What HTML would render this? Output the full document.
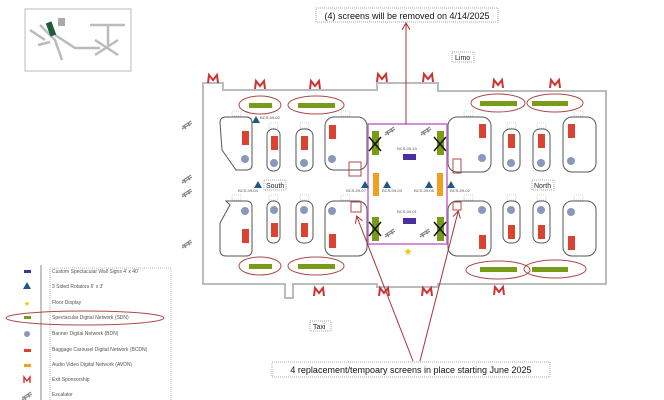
<!DOCTYPE html>
<html><head><style>
body{margin:0;background:#fff;}
svg{display:block;font-family:"Liberation Sans",sans-serif;}
</style></head><body>
<svg width="664" height="400" viewBox="0 0 664 400" xmlns="http://www.w3.org/2000/svg">
<defs>
<marker id="ah" markerWidth="8" markerHeight="8" refX="6" refY="4" orient="auto"><path d="M0,0 L7,4 L0,8" fill="none" stroke="#a33" stroke-width="1"/></marker>
<g id="M"><path d="M-5,4 L-4,-4 L0,1 L4,-4 L5,4" fill="none" stroke="#c33" stroke-width="2"/></g>
<g id="Ms"><path d="M-3,3 L-3,-3 L0,1 L3,-3 L3,3" fill="none" stroke="#c33" stroke-width="1.4"/></g>
<g id="esc"><path d="M-5,3 L4,-3 M-5,5 L5,-1 M-3,2 L-1,5 M1,-1 L3,2" stroke="#888" stroke-width="1.2" fill="none"/></g>
<g id="bd"><circle r="4" fill="#8899bb"/></g>
<g id="rr"><rect x="-3" y="-7" width="7" height="14" fill="#d9432f"/></g>
<g id="tri"><path d="M-4,3 L0,-4 L4,3Z" fill="#1f5a85"/></g>
</defs>

<!-- minimap -->
<rect x="25" y="9" width="106" height="62" fill="#fff" stroke="#bbb"/>
<path d="M40,25 L55,40 L62,60 M55,35 L75,48 L100,48 M90,25 L125,25 M108,25 L108,45 M95,40 L118,55 M95,55 L118,40 M30,30 L45,40 M38,45 L50,42" stroke="#bbb" stroke-width="2.5" fill="none"/>
<rect x="48" y="22" width="6" height="14" fill="#1d5e3a" transform="rotate(-20 51 29)"/>
<rect x="58" y="18" width="7" height="8" fill="#aaa"/>

<!-- floor outline -->
<path d="M203,83 L223,83 L223,90 L377,90 L377,83 L438,83 L438,91 L606,91 L606,284 L438,284 L438,287 L377,287 L377,284 L293,284 L293,298 L285,298 L285,284 L203,284 Z" fill="#fff" stroke="#bbb" stroke-width="2"/>

<!-- pods left top -->
<path d="M226,117 L246,117 Q252,117 252,123 L252,165 Q252,170 246,170 L236,170 L222,150 L220,123 Q220,117 226,117Z" fill="none" stroke="#555" stroke-width="1"/>
<rect x="267" y="129" width="13" height="42" rx="6" fill="none" stroke="#555"/>
<rect x="296" y="129" width="17" height="42" rx="7" fill="none" stroke="#555"/>
<rect x="325" y="117" width="42" height="53" rx="9" fill="none" stroke="#555"/>
<path d="M226,201 L246,201 Q252,201 252,207 L252,250 Q252,256 246,256 L226,256 Q220,256 220,250 L220,223 L230,205Z" fill="none" stroke="#555"/>
<rect x="267" y="201" width="13" height="42" rx="6" fill="none" stroke="#555"/>
<rect x="296" y="201" width="17" height="42" rx="7" fill="none" stroke="#555"/>
<rect x="325" y="201" width="42" height="55" rx="9" fill="none" stroke="#555"/>
<rect x="448" y="117" width="43" height="55" rx="9" fill="none" stroke="#555"/>
<rect x="503" y="129" width="17" height="42" rx="7" fill="none" stroke="#555"/>
<rect x="533" y="129" width="17" height="42" rx="7" fill="none" stroke="#555"/>
<rect x="563" y="117" width="33" height="55" rx="9" fill="none" stroke="#555"/>
<rect x="448" y="201" width="43" height="55" rx="9" fill="none" stroke="#555"/>
<rect x="503" y="201" width="17" height="42" rx="7" fill="none" stroke="#555"/>
<rect x="533" y="201" width="17" height="42" rx="7" fill="none" stroke="#555"/>
<rect x="563" y="201" width="33" height="55" rx="9" fill="none" stroke="#555"/>

<!-- pod number tags -->
<g font-size="3.5" fill="#555" text-anchor="middle">
<g fill="#fff" stroke="#aaa" stroke-width="0.5" stroke-dasharray="1,1">
<rect x="232" y="111" width="9" height="5"/><rect x="269" y="123" width="9" height="5"/><rect x="300" y="123" width="9" height="5"/><rect x="341" y="111" width="9" height="5"/>
<rect x="232" y="195" width="9" height="5"/><rect x="269" y="195" width="9" height="5"/><rect x="300" y="195" width="9" height="5"/><rect x="341" y="195" width="9" height="5"/>
<rect x="464" y="111" width="9" height="5"/><rect x="507" y="123" width="9" height="5"/><rect x="537" y="123" width="9" height="5"/><rect x="574" y="111" width="9" height="5"/>
<rect x="464" y="195" width="9" height="5"/><rect x="507" y="195" width="9" height="5"/><rect x="537" y="195" width="9" height="5"/><rect x="574" y="195" width="9" height="5"/>
</g>
</g>

<!-- red rects & banners -->
<use href="#rr" x="245" y="138"/><use href="#rr" x="274" y="143"/><use href="#rr" x="304" y="143"/><use href="#rr" x="332" y="132"/>
<use href="#bd" x="245" y="159"/><use href="#bd" x="274" y="163"/><use href="#bd" x="304" y="163"/><use href="#bd" x="332" y="159"/>
<use href="#bd" x="245" y="211"/><use href="#bd" x="274" y="210"/><use href="#bd" x="304" y="210"/><use href="#bd" x="332" y="211"/>
<use href="#rr" x="245" y="236"/><use href="#rr" x="274" y="230"/><use href="#rr" x="304" y="230"/><use href="#rr" x="332" y="241"/>
<use href="#rr" x="482" y="131"/><use href="#rr" x="511" y="141"/><use href="#rr" x="541" y="141"/><use href="#rr" x="571" y="131"/>
<use href="#bd" x="482" y="158"/><use href="#bd" x="511" y="163"/><use href="#bd" x="541" y="163"/><use href="#bd" x="571" y="161"/>
<use href="#bd" x="482" y="210"/><use href="#bd" x="511" y="210"/><use href="#bd" x="541" y="210"/><use href="#bd" x="571" y="212"/>
<use href="#rr" x="482" y="242"/><use href="#rr" x="511" y="232"/><use href="#rr" x="541" y="232"/><use href="#rr" x="571" y="243"/>

<!-- SDN bars + ellipses -->
<g fill="#7a9a1a">
<rect x="249" y="103" width="23" height="5"/><rect x="298" y="103" width="37" height="5"/>
<rect x="480" y="101" width="37" height="5"/><rect x="532" y="101" width="36" height="5"/>
<rect x="249" y="264" width="23" height="5"/><rect x="298" y="264" width="37" height="5"/>
<rect x="480" y="267" width="37" height="5"/><rect x="532" y="267" width="36" height="5"/>
</g>
<g fill="none" stroke="#b04848" stroke-width="1">
<ellipse cx="260" cy="105" rx="21" ry="9"/><ellipse cx="316" cy="105" rx="28" ry="9"/>
<ellipse cx="498" cy="103" rx="27" ry="9"/><ellipse cx="555" cy="103" rx="28" ry="9"/>
<ellipse cx="260" cy="266" rx="21" ry="9"/><ellipse cx="316" cy="266" rx="28" ry="9"/>
<ellipse cx="498" cy="270" rx="32" ry="9"/><ellipse cx="555" cy="269" rx="31" ry="9"/>
</g>

<!-- center magenta box -->
<rect x="368" y="124" width="79" height="120" fill="none" stroke="#c567d0" stroke-width="1.5"/>
<g fill="#7a9a1a"><rect x="372" y="131" width="7" height="24"/><rect x="437" y="131" width="7" height="24"/><rect x="372" y="217" width="7" height="24"/><rect x="437" y="217" width="7" height="24"/></g>
<g stroke="#111" stroke-width="1.5"><path d="M369,137 L381,151 M381,137 L369,151 M434,137 L446,151 M446,137 L434,151 M369,222 L381,236 M381,222 L369,236 M434,222 L446,236 M446,222 L434,236"/></g>
<rect x="373" y="173" width="6" height="23" fill="#f0a020"/><rect x="437" y="173" width="6" height="23" fill="#f0a020"/>
<rect x="403" y="154" width="13" height="6" fill="#4a2fa0"/><rect x="403" y="218" width="13" height="6" fill="#4a2fa0"/>
<g fill="none" stroke="#b04848"><rect x="349" y="162" width="12" height="14"/><rect x="351" y="202" width="10" height="10"/><rect x="453" y="159" width="8" height="14"/><rect x="453" y="202" width="8" height="8"/></g>
<use href="#esc" x="390" y="130"/><use href="#esc" x="426" y="130"/><use href="#esc" x="390" y="232"/><use href="#esc" x="425" y="232"/>
<use href="#tri" x="256" y="120"/><use href="#tri" x="258" y="185"/><use href="#tri" x="365" y="185"/><use href="#tri" x="387" y="185"/><use href="#tri" x="429" y="185"/><use href="#tri" x="451" y="185"/>
<text x="408" y="255" font-size="10" fill="#f5c400" text-anchor="middle">★</text>
<g font-size="4" fill="#555" text-anchor="middle">
<text x="270" y="119">BCS-09-02</text><text x="248" y="192">BCS-09-04</text><text x="356" y="192">BCS-09-07</text><text x="392" y="192">BCS-09-03</text><text x="424" y="192">BCS-09-08</text><text x="460" y="192">BCS-09-02</text>
<text x="407" y="150">BCS-09-10</text><text x="407" y="213">BCS-09-01</text>
</g>

<use href="#esc" x="187" y="124"/><use href="#esc" x="187" y="178"/><use href="#esc" x="187" y="192"/><use href="#esc" x="187" y="243"/>

<use href="#M" x="213" y="79"/><use href="#M" x="260" y="85"/><use href="#M" x="315" y="85"/><use href="#M" x="382" y="78"/><use href="#M" x="428" y="78"/><use href="#M" x="498" y="84"/><use href="#M" x="555" y="84"/>
<use href="#M" x="319" y="292"/><use href="#M" x="384" y="292"/><use href="#M" x="427" y="292"/><use href="#M" x="499" y="291"/>

<g font-size="7" fill="#222">
<rect x="264" y="180" width="22" height="10" fill="#fff" stroke="#aaa" stroke-dasharray="1,1"/><text x="266" y="188">South</text>
<rect x="532" y="180" width="22" height="10" fill="#fff" stroke="#aaa" stroke-dasharray="1,1"/><text x="534" y="188">North</text>
<rect x="452" y="52" width="22" height="10" fill="#fff" stroke="#aaa" stroke-dasharray="1,1"/><text x="455" y="60">Limo</text>
<rect x="310" y="321" width="21" height="10" fill="#fff" stroke="#aaa" stroke-dasharray="1,1"/><text x="313" y="329">Taxi</text>
</g>

<rect x="316" y="8" width="182" height="14" fill="#fff" stroke="#aaa" stroke-dasharray="1,1"/>
<text x="407" y="19" font-size="9" text-anchor="middle" fill="#111">(4) screens will be removed on 4/14/2025</text>
<line x1="406" y1="124" x2="406" y2="24" stroke="#a33" marker-end="url(#ah)"/>
<rect x="272" y="362" width="278" height="15" fill="#fff" stroke="#aaa" stroke-dasharray="1,1"/>
<text x="411" y="373" font-size="9" text-anchor="middle" fill="#111">4 replacement/tempoary screens in place starting June 2025</text>
<line x1="413" y1="361" x2="357" y2="217" stroke="#a33" marker-end="url(#ah)"/>
<line x1="420" y1="361" x2="458" y2="212" stroke="#a33" marker-end="url(#ah)"/>

<line x1="41" y1="265" x2="41" y2="400" stroke="#888"/>
<rect x="50" y="268" width="121" height="133" fill="none" stroke="#bbb" stroke-dasharray="1,1"/>
<rect x="24" y="270" width="7" height="3" fill="#4a2fa0"/>
<use href="#tri" x="27" y="286"/>
<text x="27" y="306" font-size="7" fill="#f5c400" text-anchor="middle">★</text>
<rect x="24" y="316" width="7" height="3" fill="#7a9a1a"/>
<circle cx="27" cy="334" r="3" fill="#8899bb"/>
<rect x="24" y="349" width="7" height="3" fill="#d9432f"/>
<rect x="24" y="364" width="7" height="3" fill="#f0a020"/>
<use href="#Ms" x="27" y="380"/>
<use href="#esc" x="27" y="395"/>
<g font-size="5" fill="#555">
<text x="52" y="273">Custom Spectacular Wall Signs 4' x 40'</text>
<text x="52" y="288">3 Sided Rotators 6' x 3'</text>
<text x="52" y="304">Floor Display</text>
<text x="52" y="319">Spectacular Digital Network (SDN)</text>
<text x="52" y="335">Banner Digital Network (BDN)</text>
<text x="52" y="351">Baggage Carousel Digital Network (BCDN)</text>
<text x="52" y="366">Audio Video Digital Network (AVDN)</text>
<text x="52" y="381">Exit Sponsorship</text>
<text x="52" y="396">Escalator</text>
</g>
<ellipse cx="85" cy="318" rx="79" ry="7" fill="none" stroke="#b04848"/>
</svg>
</body></html>
